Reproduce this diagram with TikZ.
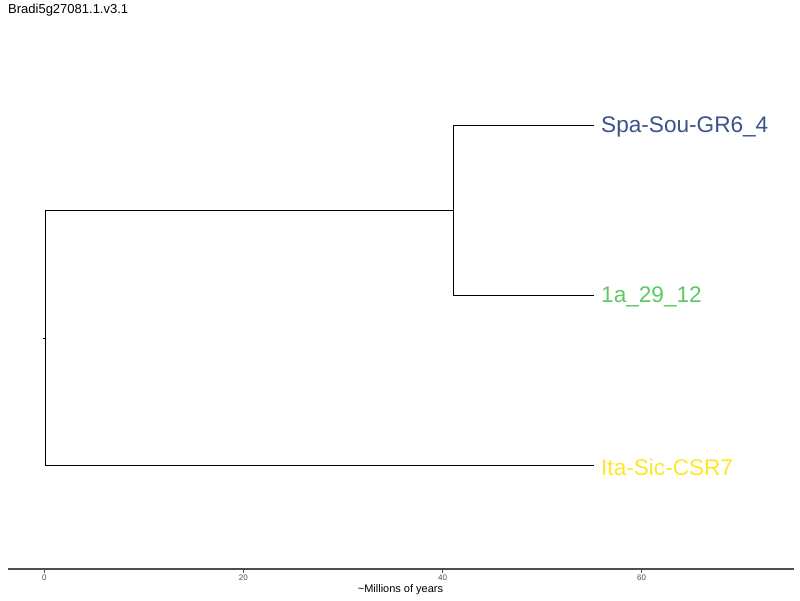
\documentclass[tikz,border=0pt]{standalone}
\usepackage{fontspec}
\setmainfont{Liberation Sans}
\usepackage{xcolor}
\definecolor{tipblue}{HTML}{3B528B}
\definecolor{tipgreen}{HTML}{5DC863}
\definecolor{tipyellow}{HTML}{FDE725}
\definecolor{axisgray}{HTML}{4D4D4D}
\usetikzlibrary{positioning}

\tikzset{
  branch/.style={black, line width=0.9pt},
  tiplabel/.style={anchor=west, inner sep=0pt, font=\fontsize{22.6}{22.6}\selectfont},
  ticklabel/.style={axisgray, inner sep=0pt, font=\fontsize{8}{8}\selectfont}
}

\begin{document}
\begin{tikzpicture}[x=1pt, y=-1pt]
      \useasboundingbox (0,0) rectangle (800,600);
      % Title
      \node[anchor=west, inner sep=0pt, font=\fontsize{13}{13}\selectfont] (title) at (8,10) {Bradi5g27081.1.v3.1};
      % Tree nodes
      \coordinate (root) at (45,338.5);
      \coordinate (rootstub) at (43,338.5);
      \coordinate (inner) at (453,210.5);
      \coordinate (tipA) at (594,125.5);
      \coordinate (tipB) at (594,295.5);
      \coordinate (tipC) at (594,465.5);
      % Branches
      \draw[branch] (rootstub) -- (root);
      \draw[branch] (root) |- (inner);
      \draw[branch] (root) |- (tipC);
      \draw[branch] (inner) |- (tipA);
      \draw[branch] (inner) |- (tipB);
      % Tip labels
      \node[tiplabel, tipblue, right=7pt of tipA, yshift=-1.5pt] (labA) {Spa-Sou-GR6\_4};
      \node[tiplabel, tipgreen, right=7pt of tipB, yshift=-1.5pt] (labB) {1a\_29\_12};
      \node[tiplabel, tipyellow, right=7pt of tipC, yshift=-1.5pt] (labC) {Ita-Sic-CSR7};
      % Time axis
      \coordinate (axisL) at (8,569);
      \coordinate (axisR) at (794,569);
      \draw[axisgray, line width=1.1pt] (axisL) -- (axisR);
      \foreach \t/\px in {0/44.3, 20/243.4, 40/442.5, 60/641.6} {
        \draw[axisgray, line width=0.7pt] (\px,569) -- (\px,572.5);
        \node[ticklabel] (tick\t) at (\px,577.5) {\t};
      }
      \node[inner sep=0pt, font=\fontsize{11}{11}\selectfont] (axistitle) at (400.5,589.5) {\textasciitilde Millions of years};
    \end{tikzpicture}
\end{document}
